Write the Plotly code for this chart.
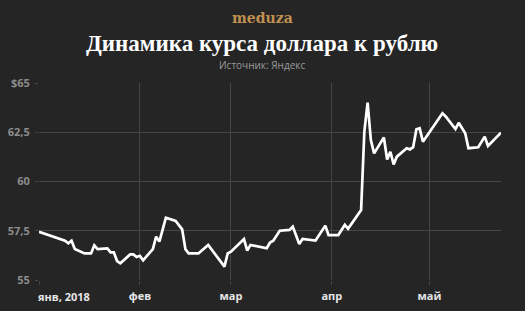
import plotly.graph_objects as go

dates = ["2018-01-01","2018-01-09","2018-01-10","2018-01-11","2018-01-12","2018-01-15","2018-01-17",
         "2018-01-18","2018-01-19","2018-01-22","2018-01-23","2018-01-24","2018-01-25","2018-01-26",
         "2018-01-29","2018-01-30","2018-01-31","2018-02-01","2018-02-02","2018-02-05","2018-02-06",
         "2018-02-07","2018-02-09","2018-02-12","2018-02-14","2018-02-15","2018-02-16","2018-02-19",
         "2018-02-22","2018-02-27","2018-02-28","2018-03-01","2018-03-05","2018-03-06","2018-03-07",
         "2018-03-12","2018-03-13","2018-03-14","2018-03-16","2018-03-19","2018-03-20","2018-03-22",
         "2018-03-23","2018-03-27","2018-03-30","2018-03-31","2018-04-03","2018-04-05","2018-04-06",
         "2018-04-10","2018-04-11","2018-04-12","2018-04-13","2018-04-14","2018-04-17","2018-04-18",
         "2018-04-19","2018-04-20","2018-04-21","2018-04-24","2018-04-25","2018-04-26","2018-04-27",
         "2018-04-28","2018-04-29","2018-05-05","2018-05-06","2018-05-09","2018-05-10","2018-05-12",
         "2018-05-13","2018-05-16","2018-05-18","2018-05-19","2018-05-23"]
rates = [57.45,56.99,56.86,56.99,56.57,56.35,56.35,
         56.76,56.57,56.60,56.40,56.40,55.96,55.85,
         56.30,56.30,56.17,56.23,56.00,56.57,57.20,
         56.95,58.16,58.00,57.57,56.56,56.35,56.35,
         56.78,55.68,56.35,56.44,57.08,56.49,56.78,
         56.61,56.90,56.99,57.50,57.54,57.71,56.83,
         57.08,57.00,57.76,57.28,57.28,57.80,57.60,
         58.55,62.53,64.00,62.10,61.43,62.24,61.12,
         61.51,60.87,61.26,61.69,61.63,61.74,62.65,
         62.70,62.02,63.46,63.30,62.66,62.98,62.45,
         61.69,61.74,62.28,61.80,62.48]

y_ticks = [55, 57.5, 60, 62.5, 65]
y_labels = ["55", "57,5", "60", "62,5", "$65"]
x_ticks = ["2018-01-01", "2018-02-01", "2018-03-01", "2018-04-01", "2018-05-01"]
x_labels = ["янв, 2018", "фев", "мар", "апр", "май"]

title = "Динамика курса доллара к рублю"
subtitle = "Источник: Яндекс"
brand = "meduza"

bg = "#252525"
grid = "#464646"
W, H = 525, 311
ML, MR, MT, MB = 39, 24, 83, 31

fig = go.Figure()
fig.add_trace(go.Scatter(x=dates, y=rates, mode="lines",
                         line=dict(color="white", width=2.7), hoverinfo="skip"))

xfont = dict(family="Open Sans", size=11, color="#e6e6e6", weight="bold")
fig.update_layout(
    width=W, height=H,
    paper_bgcolor=bg, plot_bgcolor=bg,
    margin=dict(l=ML, r=MR, t=MT, b=MB, autoexpand=False),
    showlegend=False,
    xaxis=dict(range=["2018-01-01", "2018-05-23"], tickvals=x_ticks,
               ticktext=[""] + x_labels[1:], automargin=False,
               showgrid=True, gridcolor=grid, gridwidth=1, zeroline=False,
               ticks="outside", ticklen=4, tickcolor=grid, ticklabelstandoff=2,
               tickfont=xfont, showline=False, fixedrange=True),
    yaxis=dict(range=[55, 65], tickvals=y_ticks, ticktext=y_labels, automargin=False,
               showgrid=True, gridcolor=grid, gridwidth=1, zeroline=False,
               ticks="outside", ticklen=3, tickcolor=grid, ticklabelstandoff=3,
               tickfont=dict(family="Open Sans", size=11, color="#8c8c8c", weight="bold"),
               showline=False, fixedrange=True),
)

plot_w = W - ML - MR
plot_h = H - MT - MB
def px(pix):
    return (pix - ML) / plot_w
def py(pix):
    return (H - MB - pix) / plot_h

fig.add_annotation(text=x_labels[0], x=x_ticks[0], xref="x", xanchor="left", xshift=-3,
                   y=0, yref="paper", yanchor="top", yshift=-7, showarrow=False, font=xfont)
fig.add_annotation(text=brand, x=px(262.5), xref="paper", xanchor="center",
                   y=py(18), yref="paper", yanchor="middle", showarrow=False,
                   font=dict(family="DejaVu Serif", size=14, color="#c09050", weight="bold"))
fig.add_annotation(text=title, x=px(261.5), xref="paper", xanchor="center",
                   y=py(44), yref="paper", yanchor="middle", showarrow=False,
                   font=dict(family="Liberation Serif", size=23, color="white", weight="bold"))
fig.add_annotation(text=subtitle, x=px(261.5), xref="paper", xanchor="center",
                   y=py(65), yref="paper", yanchor="middle", showarrow=False,
                   font=dict(family="Open Sans", size=10, color="#9a9a9a"))

fig.write_html("out.html")
